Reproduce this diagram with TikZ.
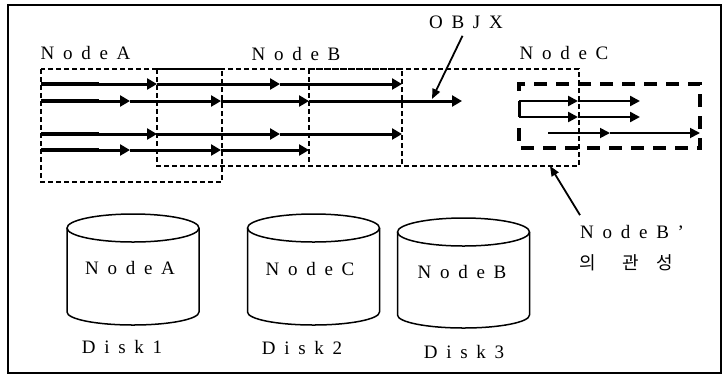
\documentclass[tikz,border=0pt]{standalone}
\usepackage{fontspec}
\setmainfont{Liberation Serif}
\newfontfamily\spaced[LetterSpace=46]{Liberation Serif}
\newfontfamily\kr{Noto Sans CJK KR}
\usetikzlibrary{arrows.meta}

\begin{document}
\begin{tikzpicture}[x=1pt,y=-1pt]
        % 스타일 정의
        \tikzset{boxline/.style={line width=1.3pt, dash pattern=on 5pt off 3pt}}
        \tikzset{bigbox/.style={line width=4pt, dash pattern=on 13pt off 9pt}}
        \tikzset{fatarrow/.style={line width=3pt, -{Triangle[length=10pt,width=11pt]}}}
        \tikzset{thinarrow/.style={line width=2.4pt, -{Triangle[length=10pt,width=10pt]}}}
        \tikzset{lbl/.style={font=\spaced\fontsize{19}{19}\selectfont, inner sep=0pt}}
        \tikzset{disk/.style={line width=1.5pt}}

        \useasboundingbox (0,0) rectangle (723,376);
        \draw[line width=1.5pt] (8,5) rectangle (721,373);

        % 1. 노드 영역 (점선 상자)
        \draw[boxline] (41,69) rectangle (222,182);
        \draw[boxline] (157,69) rectangle (402,166);
        \draw[boxline] (309,69) rectangle (579,166);

        \node[lbl] (lblA) at (85.5,53) {NodeA};
        \node[lbl] (lblB) at (296,54) {NodeB};
        \node[lbl] (lblC) at (564,53) {NodeC};

        % 2. 굵은 화살표 줄
        \foreach \y in {84,134} {
            \draw[line width=4.5pt] (41,\y) -- (99,\y);
            \draw[fatarrow] (41,\y) -- (157,\y);
            \draw[fatarrow] (157,\y) -- (280,\y);
            \draw[fatarrow] (280,\y) -- (402,\y);
        }
        \foreach \y in {101,150} {
            \draw[line width=4.5pt] (41,\y) -- (99,\y);
            \draw[fatarrow] (41,\y) -- (130,\y);
            \draw[fatarrow] (130,\y) -- (221,\y);
            \draw[fatarrow] (221,\y) -- (309,\y);
        }
        \draw[fatarrow] (309,101) -- (462,101);

        % 3. NodeB' 의 관성 (굵은 점선)
        \draw[bigbox] (519,128) -- (519,148) -- (700,148) -- (700,84) -- (519,84) -- (519,93);
        \draw[line width=3pt] (519,101) -- (519,117);
        \foreach \y in {101,117} {
            \draw[thinarrow] (519,\y) -- (578,\y);
            \draw[thinarrow] (578,\y) -- (640,\y);
        }
        \draw[thinarrow, line width=1.8pt] (548,133) -- (610,133);
        \draw[thinarrow, line width=1.8pt] (610,133) -- (700,133);

        % 4. 설명 화살표
        \node[lbl] (objx) at (466,22) {OBJX};
        \coordinate (objxtip) at (432,99);
        \draw[line width=1.8pt, -{Triangle[length=10pt,width=8pt]}, shorten <=8pt] (objx.south) -- (objxtip);

        \node[lbl, anchor=west] (nbp) at (580,232) {NodeB’};
        \node[font=\kr\fontsize{18}{18}\selectfont, inner sep=0pt, anchor=west] (nbk) at (579,263) {의\hspace{27pt}관\hspace{17pt}성};
        \coordinate (nbtip) at (550,166);
        \draw[line width=1.8pt, -{Triangle[length=10pt,width=8pt]}] ([yshift=10pt]nbp.north west) -- (nbtip);

        % 5. 디스크
        \foreach \cx/\ty/\by in {133/228/312, 313.5/228/312, 463.5/232/315} {
            \draw[disk] (\cx-66,\ty) -- (\cx-66,\by)
                arc[start angle=180, end angle=360, x radius=66pt, y radius=13pt] -- (\cx+66,\ty);
            \draw[disk] (\cx,\ty) ellipse[x radius=66pt, y radius=14pt];
        }
        \node[lbl] (diskA) at (130,268) {NodeA};
        \node[lbl] (diskC) at (310,269) {NodeC};
        \node[lbl] (diskB) at (462,272) {NodeB};
        \node[lbl] (disk1) at (122,347) {Disk1};
        \node[lbl] (disk2) at (302,348) {Disk2};
        \node[lbl] (disk3) at (464,352) {Disk3};
\end{tikzpicture}
\end{document}
